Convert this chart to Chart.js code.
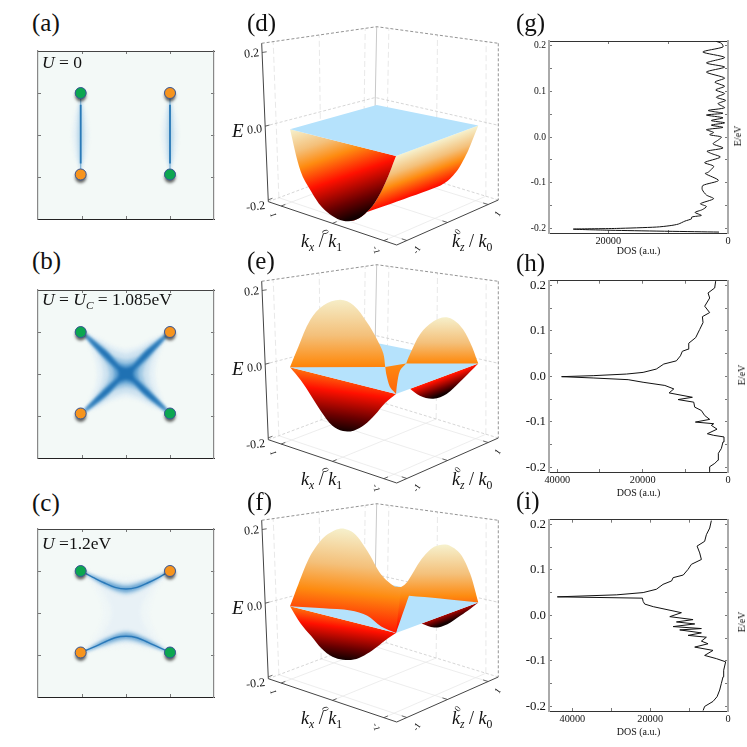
<!DOCTYPE html>
<html>
<head>
<meta charset="utf-8">
<title>Band structure and DOS</title>
<script src="https://cdn.jsdelivr.net/npm/chart.js@4/dist/chart.umd.min.js"></script>
<style>
  html, body { margin: 0; padding: 0; background: #fff; }
  #page { position: relative; width: 747px; height: 747px; overflow: hidden; }
  canvas { position: absolute; }
  .t { position: absolute; white-space: nowrap; font-family: "Liberation Serif", serif; color: #111; line-height: 1; }
  .t sub { font-size: .65em; line-height: 0; vertical-align: -0.3em; }
</style>
</head>
<body>
<div id="page"></div>
<script>
// ---- maps (a-c), node positions and fermi arc contours, k units
const nodeX = [-1.03, 1.0, -1.03, 1.0];
const nodeY = [1.0, 1.0, -0.94, -0.94];
const nodeTicks = [-1, 0, 1];

const spindleY = [0.92, 0.55, 0.25, 0, -0.25, -0.55, -0.86];
const spindleOuter = [0, 0.12, 0.17, 0.19, 0.17, 0.12, 0];
const spindleInner = [0, 0.05, 0.07, 0.08, 0.07, 0.05, 0];

// quadrant contours of (b), from the kx axis through the node to the kz axis
const xOuter = [[0.66, 0], [0.7, 0.3], [0.85, 0.7], [1, 1], [0.6, 0.85], [0.3, 0.68], [0, 0.6]];
const xLevel1 = [[0.52, 0], [0.56, 0.25], [0.72, 0.6], [1, 1], [0.57, 0.75], [0.28, 0.57], [0, 0.48]];
const xLevel2 = [[0.38, 0], [0.43, 0.2], [0.62, 0.52], [1, 1], [0.53, 0.66], [0.27, 0.42], [0, 0.34]];
const xLevel3 = [[0.27, 0], [0.3, 0.15], [0.55, 0.45], [1, 1], [0.47, 0.57], [0.2, 0.3], [0, 0.24]];
const xLevel4 = [[0.17, 0], [0.2, 0.1], [0.5, 0.42], [0.98, 0.98], [0.42, 0.5], [0.15, 0.2], [0, 0.15]];

// contours of (c)
const hOuter = [[0.52, 0], [0.58, 0.3], [0.75, 0.65], [1, 1], [0.6, 0.93], [0.3, 0.88], [0, 0.86]];
const hLevel1 = [[0.33, 0], [0.38, 0.25], [0.55, 0.55], [1, 1], [0.5, 0.78], [0.25, 0.72], [0, 0.7]];
const hLensX = [-1, -0.5, 0, 0.5, 1];
const hLensWideTop = [1, 0.84, 0.72, 0.84, 1];
const hLensWideLow = [1, 0.62, 0.42, 0.62, 1];
const hLensThinTop = [1, 0.78, 0.64, 0.78, 1];
const hLensThinLow = [1, 0.67, 0.49, 0.67, 1];
const hCurveX = [-1.03, -0.75, -0.5, -0.25, 0, 0.25, 0.5, 0.75, 1];
const hCurveTop = [1, 0.85, 0.72, 0.61, 0.57, 0.61, 0.72, 0.85, 1];
const hCurveBottom = [-0.94, -0.82, -0.7, -0.59, -0.555, -0.59, -0.7, -0.82, -0.94];

// ---- bands (d-f), [kx, kz, E]
const kxArc = [1, 0.8, 0.6, 0.4, 0.2, 0, -0.2, -0.4, -0.6, -0.8, -1];
const dArcE = [0, -0.105, -0.151, -0.184, -0.199, -0.203, -0.194, -0.17, -0.132, -0.074, 0];
const eArcE = [0, -0.027, -0.062, -0.098, -0.125, -0.131, -0.122, -0.1, -0.067, -0.029, 0];
const fArcE = [0, -0.039, -0.065, -0.091, -0.104, -0.104, -0.096, -0.078, -0.053, -0.025, 0];

const eBackKz = [-0.66, -0.42, -0.09, 0.23, 0.55, 0.8, 1];
const eBackE = [0, -0.027, -0.048, -0.049, -0.031, -0.014, 0];
const fBackKz = [-0.38, -0.07, 0.25, 0.57, 0.8, 1];
const fBackE = [0, -0.0225, -0.0266, -0.017, -0.009, 0];

const fermiPlane = [[1, -1, 0], [1, 1, 0], [-1, 1, 0], [-1, -1, 0]];

const eHumpLeft = [[1, -1, 0], [0.913, -0.913, 0.056], [0.79, -0.79, 0.128], [0.65, -0.65, 0.168], [0.476, -0.476, 0.183],
  [0.336, -0.336, 0.168], [0.196, -0.196, 0.1225], [0.091, -0.091, 0.077], [0.021, -0.021, 0.037], [0, 0, 0]];
const eHumpRight = [[-0.222, 0.222, 0.008], [-0.265, 0.265, 0.034], [-0.373, 0.373, 0.087], [-0.516, 0.516, 0.12],
  [-0.66, 0.66, 0.129], [-0.803, 0.803, 0.105], [-0.91, 0.91, 0.059], [-1, 1, 0]];
const eFlap = [[0, 0, 0], [-0.125, -0.125, -0.013], [-0.44, -0.44, -0.021], [-0.81, -0.81, -0.0076], [-1, -1, 0], [-1, -1, 0],
  [-0.7, -0.59, 0], [-0.295, -0.015, 0], [-0.222, 0.222, 0.008]];

const fHumpLeft = [[1, -1, 0], [0.912, -0.912, 0.0606], [0.788, -0.788, 0.1376], [0.646, -0.646, 0.1875], [0.47, -0.47, 0.2105],
  [0.328, -0.328, 0.1973], [0.186, -0.186, 0.148], [0.044, -0.044, 0.085], [-0.098, 0.098, 0.052], [-0.168, 0.168, 0.0505],
  [-0.168, 0.168, 0.0505], [-1, -1, 0], [-1, -1, 0], [-0.6335, -0.889, 0], [-0.133, -0.589, 0], [0.231, -0.537, 0], [0.592, -0.724, 0], [1, -1, 0]];
const fHumpRight = [[-0.098, 0.098, 0.052], [-0.168, 0.168, 0.0505], [-0.238, 0.238, 0.065], [-0.38, 0.38, 0.1216], [-0.522, 0.522, 0.156],
  [-0.664, 0.664, 0.16], [-0.806, 0.806, 0.134], [-0.912, 0.912, 0.0788], [-1, 1, 0], [-1, 1, 0], [-0.384, 0.837, 0],
  [0.092, 0.673, 0], [0.092, 0.673, 0], [-1, -1, 0]];

const kTicks = [-1, 0, 1];
const kTickLabels = ['-1', '0', '1'];
const eTicks = [-0.2, 0, 0.2];
const eTickLabels = ['-0.2', '0.0', '0.2'];

// ---- DOS (g-i)
const gEnergy = [-0.208, -0.204, -0.2015, -0.2, -0.197, -0.194, -0.1905, -0.184, -0.179, -0.175, -0.1715, -0.165, -0.159, -0.152, -0.146, -0.135,
  -0.127, -0.115, -0.106, -0.095, -0.08, -0.077, -0.064, -0.056, -0.044, -0.036, -0.031, -0.024, -0.015, -0.007, 0, 0.005, 0.01, 0.016, 0.021, 0.026,
  0.031, 0.036, 0.042, 0.048, 0.052, 0.058, 0.064, 0.073, 0.08, 0.087, 0.095, 0.103, 0.111, 0.12, 0.129, 0.142, 0.153, 0.162, 0.174, 0.186, 0.197, 0.205, 0.209];
const gDos = [1500, 19700, 25850, 18600, 11950, 9700, 8300, 7200, 6100, 6050, 4450, 5500, 4300, 3600, 4600, 2400,
  3600, 4300, 4200, 1600, 3800, 3300, 2400, 3900, 1280, 2800, 3500, 830, 2500, 1670, 1100, 3060, 2400, 3600, 830, 2800,
  560, 2800, 830, 3600, 830, 3300, 560, 1670, 390, 1950, 560, 2050, 560, 2200, 560, 3600, 560, 3600, 560, 4200, 830, 1100, 1950];

const hEnergy = [-0.209, -0.1985, -0.191, -0.184, -0.169, -0.1585, -0.144, -0.133, -0.1295, -0.126, -0.116, -0.1076, -0.104, -0.1004, -0.0945, -0.086,
  -0.075, -0.0676, -0.0567, -0.051, -0.046, -0.0364, -0.0276, -0.02, -0.013, -0.0073, -0.0036, -0.0007, 0.0015, 0.005, 0.0087, 0.016, 0.027, 0.034,
  0.045, 0.055, 0.0596, 0.0727, 0.085, 0.103, 0.118, 0.131, 0.14, 0.154, 0.172, 0.183, 0.194, 0.209];
const hDos = [4450, 4300, 3100, 2340, 2260, 1560, 1170, 940, 3350, 4840, 2570, 3900, 3350, 7640, 4290, 5460,
  6240, 7800, 8030, 11700, 8350, 13800, 12700, 14800, 19900, 23400, 31600, 39000, 31600, 23800, 19900, 16800, 15050, 12100,
  11150, 10700, 9360, 9200, 7570, 6630, 5850, 6000, 4300, 5460, 4290, 4680, 3120, 2890];

const iEnergy = [-0.209, -0.2, -0.189, -0.1785, -0.164, -0.1495, -0.135, -0.1205, -0.102, -0.095, -0.088, -0.077, -0.0697, -0.0624, -0.0566, -0.048,
  -0.044, -0.0385, -0.032, -0.029, -0.0247, -0.0189, -0.0145, -0.0094, -0.0029, 0.0058, 0.019, 0.0247, 0.0305, 0.0377, 0.0406, 0.045, 0.05, 0.0573,
  0.068, 0.0755, 0.0827, 0.0885, 0.101, 0.112, 0.1226, 0.137, 0.152, 0.1625, 0.177, 0.1916, 0.208];
const iDos = [6400, 6000, 3850, 2800, 2140, 1710, 1280, 1110, 600, 3000, 6000, 3850, 8550, 5130, 6840, 5560,
  10260, 6840, 12400, 6840, 14100, 8550, 13250, 8980, 14960, 11970, 19200, 21400, 21800, 22000, 43860, 28600, 21800, 18400,
  16700, 14500, 14100, 11500, 10260, 9400, 6840, 7270, 7950, 6000, 5560, 4700, 4275];

const dosMajorTicks = [0, 20000, 40000];
const dosMinorTicks = [10000, 30000];
const energyMajorTicks = [-0.2, -0.1, 0, 0.1, 0.2];
const energyMinorTicks = [-0.15, -0.05, 0.05, 0.15];

// ---- helpers
const page = document.getElementById('page');

function newCanvas(left, top, w, h) {
  const c = document.createElement('canvas');
  c.width = w; c.height = h;
  c.style.left = left + 'px'; c.style.top = top + 'px';
  c.style.width = w + 'px'; c.style.height = h + 'px';
  page.appendChild(c);
  return c;
}

function addText(html, x, y, size, extra) {
  const s = document.createElement('div');
  s.className = 't';
  s.innerHTML = html;
  s.style.left = x + 'px';
  s.style.top = y + 'px';
  s.style.fontSize = size + 'px';
  s.style.transform = extra || 'translateY(-50%)';
  page.appendChild(s);
}

function toPts(list) { return list.map(p => ({ x: p[0], y: p[1] })); }

function area(points, color, tension, i) {
  return { data: points, showLine: true, fill: 'shape', backgroundColor: color, borderWidth: 0, pointRadius: 0, tension: tension || 0, order: -i };
}

function stroke(points, color, width, dash, i, tension) {
  return { data: points, showLine: true, fill: false, borderColor: color, borderWidth: width, borderDash: dash || [], pointRadius: 0, tension: tension || 0, order: -i };
}

// closes a first quadrant contour over the four quadrants, lower half a bit shorter like the nodes
function ring(q) {
  const out = [];
  q.forEach(p => out.push([p[0], p[1]]));
  q.slice(0, -1).reverse().forEach(p => out.push([-p[0], p[1]]));
  q.slice(1).forEach(p => out.push([-p[0], -p[1] * 0.94]));
  q.slice(1, -1).reverse().forEach(p => out.push([p[0], -p[1] * 0.94]));
  return toPts(out);
}

function spindle(x0, widths) {
  const out = [];
  spindleY.forEach((y, i) => out.push([x0 + widths[i], y]));
  spindleY.slice().reverse().forEach((y, i) => out.push([x0 - widths[widths.length - 1 - i], y]));
  return toPts(out);
}

function lens(top, low, flip) {
  const out = [];
  hLensX.forEach((x, i) => out.push([x, top[i] * flip]));
  hLensX.slice().reverse().forEach((x, i) => out.push([x, low[low.length - 1 - i] * flip]));
  return toPts(out);
}

const fillBack = {
  id: 'fillBack',
  beforeDraw(chart, args, opts) {
    if (!opts.color) return;
    const a = chart.chartArea;
    chart.ctx.save();
    chart.ctx.fillStyle = opts.color;
    chart.ctx.fillRect(a.left, a.top, a.right - a.left, a.bottom - a.top);
    chart.ctx.restore();
  }
};

// soft contours: the filler runs first in beforeDatasetDraw, so only the fills get the blur
const mapSoft = {
  id: 'mapSoft',
  beforeDatasetsDraw(chart) { chart.ctx.filter = 'blur(1.6px)'; },
  beforeDatasetDraw(chart, args) {
    chart.ctx.filter = 'none';
    if (chart.data.datasets[args.index].isShadow) {
      chart.ctx.save();
      chart.ctx.shadowColor = 'rgba(0,0,0,0.6)';
      chart.ctx.shadowBlur = 3;
      chart.ctx.shadowOffsetY = 3;
    }
  },
  afterDatasetDraw(chart, args) {
    if (chart.data.datasets[args.index].isShadow) chart.ctx.restore();
    chart.ctx.filter = 'blur(1.6px)';
  },
  afterDatasetsDraw(chart) { chart.ctx.filter = 'none'; }
};

function zeroSize(s) { if (s.isHorizontal()) s.height = 0; else s.width = 0; }

function frameAxis(position, axis, lim, ticksList, color, width, showLabel) {
  return Object.assign({
    type: 'linear', position: position, axis: axis,
    min: lim[0], max: lim[1], reverse: !!lim[2],
    afterFit: zeroSize,
    afterBuildTicks: s => { s.ticks = ticksList.map(v => ({ value: v })); },
    grid: { drawOnChartArea: false, tickLength: -3, tickColor: '#555', tickWidth: 0.8 },
    border: { color: color, width: width },
    ticks: { display: false, autoSkip: false, maxRotation: 0 }
  }, showLabel || {});
}

// ---- panels a-c
function mapChart(top, sets) {
  const c = newCanvas(36, top, 180, 172);
  const nodePts = nodeX.map((x, i) => ({ x: x, y: nodeY[i] }));
  const nodeShadows = {
    data: nodePts, isShadow: true, pointRadius: 5.5, pointBorderWidth: 0,
    pointBackgroundColor: '#555', showLine: false, order: -100
  };
  const nodes = {
    data: nodePts, pointRadius: 5.5, pointBorderWidth: 1, pointBorderColor: '#3b5a9a',
    pointBackgroundColor: ['#0ca650', '#f7941d', '#f7941d', '#0ca650'], showLine: false, order: -101
  };
  new Chart(c, {
    type: 'scatter',
    data: { datasets: sets.concat([nodeShadows, nodes]) },
    plugins: [fillBack, mapSoft],
    options: {
      responsive: false, animation: false, events: [],
      layout: { padding: 2, autoPadding: false },
      plugins: { legend: { display: false }, tooltip: { enabled: false }, fillBack: { color: '#f3f9f7' } },
      scales: {
        x: frameAxis('bottom', 'x', [-2, 2], nodeTicks, '#222', 1),
        x2: frameAxis('top', 'x', [-2, 2], nodeTicks, '#444', 1),
        y: frameAxis('left', 'y', [-2, 2], nodeTicks, '#888', 1.2),
        y2: frameAxis('right', 'y', [-2, 2], nodeTicks, '#888', 1.2)
      }
    }
  });
}

mapChart(49, [
  area(spindle(-1.03, spindleOuter), '#e6f1f6', 0.3, 0),
  area(spindle(-1.03, spindleInner), '#bcd9ea', 0.3, 1),
  area(spindle(1, spindleOuter), '#e6f1f6', 0.3, 2),
  area(spindle(1, spindleInner), '#bcd9ea', 0.3, 3),
  stroke(toPts([[-1.03, 1], [-1.03, -0.94]]), '#7db2d8', 1.2, null, 4),
  stroke(toPts([[1, 1], [1, -0.94]]), '#7db2d8', 1.2, null, 5),
  stroke(toPts([[-1.03, 0.72], [-1.03, -0.68]]), '#2a7ab8', 1.8, null, 6),
  stroke(toPts([[1, 0.72], [1, -0.68]]), '#2a7ab8', 1.8, null, 7)
]);

mapChart(288, [
  area(ring(xOuter), '#e6f1f6', 0.2, 0),
  area(ring(xLevel1), '#cfe3f0', 0.2, 1),
  area(ring(xLevel2), '#a2c9e4', 0.2, 2),
  area(ring(xLevel3), '#63a3d2', 0.2, 3),
  area(ring(xLevel4), '#1f71b3', 0.2, 4)
]);

mapChart(527, [
  area(ring(hOuter), '#eff6f7', 0.2, 0),
  area(ring(hLevel1), '#e8f1f6', 0.2, 1),
  area(lens(hLensWideTop, hLensWideLow, 1), '#c9e0ef', 0.3, 2),
  area(lens(hLensWideTop, hLensWideLow, -0.96), '#c9e0ef', 0.3, 3),
  area(lens(hLensThinTop, hLensThinLow, 1), '#6ea8d4', 0.3, 4),
  area(lens(hLensThinTop, hLensThinLow, -0.96), '#6ea8d4', 0.3, 5),
  stroke(hCurveX.map((x, i) => ({ x: x, y: hCurveTop[i] })), '#2a79b9', 1.4, null, 6, 0.35),
  stroke(hCurveX.map((x, i) => ({ x: x, y: hCurveBottom[i] })), '#2a79b9', 1.4, null, 7, 0.35)
]);

// ---- panels d-f
const bandLeft = 225;
const bandW = 285, bandH = 260;
const kBox = 1.25, eTop = 0.225, eBottom = -0.205;
const planeL = [65, 129.3], planeB = [151.7, 105], planeR = [253.3, 125.6], planeF = [171, 156];
const floorL = [43.3, 201.7], floorF = [171.7, 245], floorR = [273.3, 200], floorB = [149, 162];
const topL = [36.7, 43.3], topF = [161, 62], topR = [273.3, 43.3], topB = [151.7, 26.7];

function mix4(l, b, r, f, kx, kz, j) {
  return l[j] * (1 + kx) * (1 - kz) / 4 + b[j] * (1 + kx) * (1 + kz) / 4 + r[j] * (1 - kx) * (1 + kz) / 4 + f[j] * (1 - kx) * (1 - kz) / 4;
}
function surfPt(p) {
  const x = mix4(planeL, planeB, planeR, planeF, p[0], p[1], 0);
  const y = mix4(planeL, planeB, planeR, planeF, p[0], p[1], 1) - p[2] * 370 * (1 - 0.04 * (p[0] + p[1]));
  return { x: x, y: y };
}
function boxPt(p) {
  const u = p[0] / kBox, v = p[1] / kBox, t = (p[2] - eBottom) / (eTop - eBottom);
  const lo = j => mix4(floorL, floorB, floorR, floorF, u, v, j);
  const hi = j => mix4(topL, topB, topR, topF, u, v, j);
  return { x: lo(0) + (hi(0) - lo(0)) * t, y: lo(1) + (hi(1) - lo(1)) * t };
}
function segs(list) {
  const out = [];
  list.forEach(s => { s.forEach(p => out.push(boxPt(p))); out.push({ x: NaN, y: NaN }); });
  return out;
}

const solarStops = [[0, '#f6f2cf'], [0.22, '#f4c07a'], [0.38, '#fe8b10'], [0.6, '#ff1000'], [0.85, '#6a0000'], [1, '#140000']];
function solar(ctx, x0, y0, x1, y1) {
  const g = ctx.createLinearGradient(x0, y0, x1, y1);
  solarStops.forEach(s => g.addColorStop(s[0], s[1]));
  return g;
}

function frameSets() {
  const L = [kBox, -kBox], B = [kBox, kBox], R = [-kBox, kBox], F = [-kBox, -kBox];
  const at = (c, e) => [c[0], c[1], e];
  const walls = [], floor = [], marks = [];
  kTicks.forEach(k => {
    walls.push([[kBox, k, eBottom], [kBox, k, eTop]]);
    walls.push([[k, kBox, eBottom], [k, kBox, eTop]]);
    floor.push([[k, -kBox, eBottom], [k, kBox, eBottom]]);
    floor.push([[-kBox, k, eBottom], [kBox, k, eBottom]]);
    marks.push([[k, -kBox, eBottom], [k, -kBox + 0.1, eBottom]]);
    marks.push([[-kBox, k, eBottom], [-kBox + 0.1, k, eBottom]]);
  });
  eTicks.forEach(e => marks.push([[kBox, -kBox, e], [kBox, -kBox + 0.1, e]]));
  return [
    stroke(segs(walls), '#e2e2e2', 0.8, [6, 3], 0),
    stroke(segs(floor), '#e8e8e8', 0.8, null, 1),
    stroke(segs([[at(L, 0), at(B, 0), at(R, 0)], [at(L, eBottom), at(B, eBottom), at(R, eBottom)]]), '#c4c4c4', 0.7, [3, 2], 2),
    stroke(segs([[at(B, eBottom), at(B, eTop)]]), '#c8c8c8', 1, null, 3),
    stroke(segs([[at(L, eTop), at(B, eTop), at(R, eTop)], [at(R, eTop), at(R, eBottom)]]), '#777', 0.8, [3, 2], 4),
    stroke(segs([[at(L, eTop), at(L, eBottom), at(F, eBottom), at(R, eBottom)]]), '#444', 1, null, 5),
    stroke(segs(marks), '#444', 0.8, null, 6)
  ];
}

function bandChart(top, build) {
  const c = newCanvas(bandLeft, top, bandW, bandH);
  const ctx = c.getContext('2d');
  const sets = frameSets().concat(build(ctx).map((s, i) => { s.order = -(10 + i); return s; }));
  new Chart(c, {
    type: 'scatter',
    data: { datasets: sets },
    options: {
      responsive: false, animation: false, events: [],
      layout: { padding: 0, autoPadding: false },
      plugins: { legend: { display: false }, tooltip: { enabled: false } },
      scales: {
        x: { type: 'linear', min: 0, max: bandW, display: false },
        y: { type: 'linear', min: 0, max: bandH, reverse: true, display: false }
      }
    }
  });
  kTicks.forEach((k, i) => {
    const a = boxPt([k, -kBox, eBottom]);
    addText(kTickLabels[i], bandLeft + a.x - 8, top + a.y + 9, 9, 'translate(-50%,-50%) rotate(75deg)');
    const b = boxPt([-kBox, k, eBottom]);
    addText(kTickLabels[i], bandLeft + b.x + 10, top + b.y + 9, 9, 'translate(-50%,-50%) rotate(-55deg)');
  });
  eTicks.forEach((e, i) => {
    const p = boxPt([kBox, -kBox, e]);
    addText(eTickLabels[i], bandLeft + p.x - 3, top + p.y + 3 - 14 * e, 12, 'translate(-100%,-50%) rotate(-6deg)');
  });
  addText('<i>E</i>', 232, top + 130, 19);
  addText('<i>k<sub>x</sub></i> / <i>k</i><sub>1</sub>', 301, top + 241, 18);
  addText('<i>k<sub>z</sub></i> / <i>k</i><sub>0</sub>', 452, top + 241, 18);
}

const planeBlue = '#b5e2fc';
const frontArc = e => kxArc.map((k, i) => surfPt([k, -1, e[i]]));
const backArc = (kz, e) => kz.map((z, i) => surfPt([-1, z, e[i]]));
const surf = list => list.map(surfPt);

bandChart(0, ctx => {
  const side = [[-1, -1, 0], [-1, 1, 0], [-1, 1, 0]];
  for (let i = 9; i >= 6; i--) side.push([kxArc[i], 1, dArcE[i]]);
  side.push([0, -1, dArcE[5]]);
  side.push([0, -1, dArcE[5]]);
  for (let i = 6; i <= 10; i++) side.push([kxArc[i], -1, dArcE[i]]);
  return [
    area(surf(side), solar(ctx, 171, 156, 195.5, 221.8), 0.25, 0),
    area(frontArc(dArcE), solar(ctx, 65, 129.3, 99.6, 227.9), 0.35, 0),
    area(surf(fermiPlane), planeBlue, 0, 0)
  ];
});

bandChart(238, ctx => [
  area(backArc(eBackKz, eBackE), solar(ctx, 195.3, 124.9, 208.3, 159.7), 0.35, 0),
  area(frontArc(eArcE), solar(ctx, 70.2, 88.6, 57.7, 185.4), 0.35, 0),
  area(surf(fermiPlane), planeBlue, 0, 0),
  area(surf(eHumpRight), solar(ctx, 221, 78, 221, 200), 0.35, 0),
  area(surf(eHumpLeft), solar(ctx, 115, 58, 115, 237), 0.35, 0),
  area(surf(eFlap), solar(ctx, 170, -42, 170, 398), 0.3, 0)
]);

bandChart(477, ctx => [
  area(backArc(fBackKz, fBackE), solar(ctx, 199.5, 121.8, 210, 150), 0.35, 0),
  area(frontArc(fArcE), solar(ctx, 69.2, 96.4, 59.1, 174.8), 0.35, 0),
  area(surf(fermiPlane), planeBlue, 0, 0),
  area(surf(fHumpRight), solar(ctx, 221.7, 67, 221.7, 204), 0.3, 0),
  area(surf(fHumpLeft), solar(ctx, 115, 50, 98, 219), 0.3, 0)
]);

// ---- panels g-i
function dosChart(o) {
  const left = 515, width = 232;
  const padTop = 12, boxH = o.titleGap + 7;
  const c = newCanvas(left, o.plotTop - padTop, width, o.plotH + padTop + boxH);
  const xTicks = dosMajorTicks.concat(dosMinorTicks).filter(v => v <= o.max);
  const yTicks = energyMajorTicks.concat(energyMinorTicks);
  const xLim = [0, o.max, true], yLim = [-0.21, 0.21];
  new Chart(c, {
    type: 'scatter',
    data: { datasets: [{
      data: o.energy.map((e, i) => ({ x: o.dos[i], y: e })),
      showLine: true, fill: false, borderColor: '#111', borderWidth: 1, pointRadius: 0, tension: o.tension
    }] },
    options: {
      responsive: false, animation: false, events: [],
      layout: { padding: { left: 0, right: 19, top: padTop, bottom: 0 }, autoPadding: false },
      plugins: { legend: { display: false }, tooltip: { enabled: false } },
      scales: {
        x: frameAxis('bottom', 'x', xLim, xTicks, '#333', 1, {
          afterFit: s => { s.height = boxH; },
          ticks: {
            display: true, autoSkip: false, maxRotation: 0, padding: 5, color: '#111',
            font: { family: 'Liberation Serif', size: 10.3 },
            callback: v => (dosMajorTicks.includes(v) ? String(v) : '')
          },
          title: { display: true, text: 'DOS (a.u.)', color: '#111', padding: { top: 1, bottom: 0 }, font: { family: 'Liberation Serif', size: 10 } }
        }),
        x2: frameAxis('top', 'x', xLim, xTicks, '#333', 1),
        y: frameAxis('left', 'y', yLim, yTicks, '#aaa', 2, {
          afterFit: s => { s.width = 34; },
          ticks: {
            display: true, autoSkip: false, maxRotation: 0, padding: 6, color: '#111',
            font: { family: 'Liberation Serif', size: o.yFont },
            callback: v => (energyMajorTicks.includes(v) ? v.toFixed(1) : '')
          }
        }),
        y2: frameAxis('right', 'y', yLim, yTicks, '#aaa', 2)
      }
    }
  });
  addText('E/eV', o.titleX, o.titleY, 10, 'translate(-50%,-50%) rotate(-90deg)');
}

dosChart({ energy: gEnergy, dos: gDos, max: 29900, plotTop: 41, plotH: 192, titleGap: 17, yFont: 9.6, titleX: 737.7, titleY: 136, tension: 0.25 });
dosChart({ energy: hEnergy, dos: hDos, max: 41950, plotTop: 279, plotH: 193, titleGap: 20, yFont: 12.8, titleX: 742, titleY: 375, tension: 0 });
dosChart({ energy: iEnergy, dos: iDos, max: 46000, plotTop: 518, plotH: 193, titleGap: 20, yFont: 12.8, titleX: 741.7, titleY: 622, tension: 0 });

// ---- annotations
addText('(a)', 32, 22, 25);
addText('(b)', 32, 260, 25);
addText('(c)', 32, 502, 25);
addText('(d)', 247, 22, 25);
addText('(e)', 247, 260, 25);
addText('(f)', 247, 501, 25);
addText('(g)', 516, 22, 25);
addText('(h)', 516, 262, 25);
addText('(i)', 516, 500, 25);
addText('<i>U</i> = 0', 42, 63, 17.5);
addText('<i>U</i> = <i>U<sub>C</sub></i> = 1.085eV', 42, 300, 17.5);
addText('<i>U</i> =1.2eV', 42, 544, 17.5);
</script>
</body>
</html>
